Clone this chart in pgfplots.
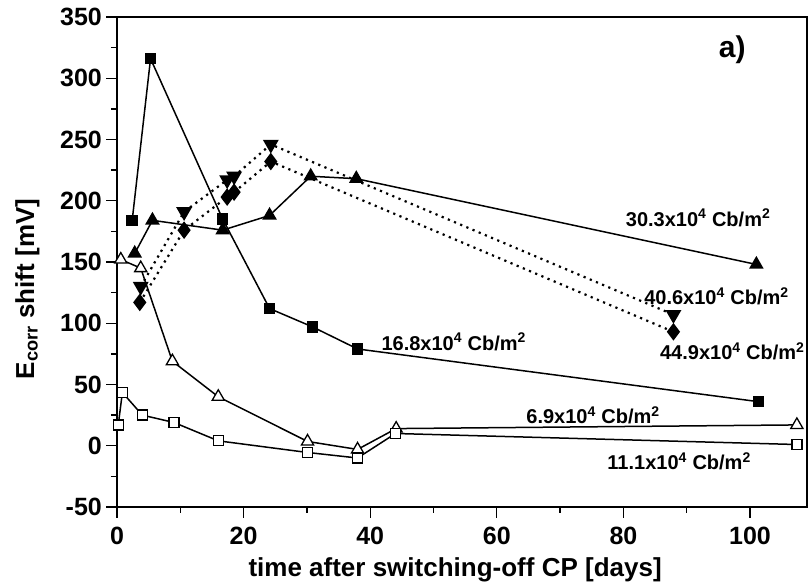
\documentclass[border=0pt]{standalone}
\usepackage{fontspec}
\setmainfont{Liberation Sans}
\usepackage{pgfplots}
\pgfplotsset{compat=1.18}
\begin{document}
\begin{tikzpicture}
\begin{axis}[
 scale only axis, width=690pt, height=490pt,
 xmin=0, xmax=109, ymin=-50, ymax=350,
 xtick={0,20,...,100}, ytick={-50,0,...,350},
 minor x tick num=1, minor y tick num=1,
 xtick pos=bottom, ytick pos=left,
 tick align=outside, major tick length=11pt, minor tick length=6pt,
 every tick/.style={black, line width=1.3pt},
 line width=1.6pt,
 /pgf/number format/assume math mode=true,
 ticklabel style={font=\fontsize{25}{29}\selectfont\bfseries},
 xticklabel style={yshift=-5pt},
 xlabel={time after switching-off CP [days]},
 ylabel={E\textsubscript{corr} shift [mV]},
 label style={font=\fontsize{26}{30}\selectfont\bfseries},
 xlabel style={at={(axis description cs:0.49,-0.128)}, anchor=center},
 ylabel style={at={(axis description cs:-0.13,0.445)}, anchor=center},
 clip=false,
]
% 16.8 filled squares
\addplot[black, line width=1.5pt, mark=square*, mark size=5pt, mark options={fill=black}] coordinates {
 (2.4,184) (5.3,316) (16.7,185) (24.1,112) (30.9,97) (38,79) (101.3,36)};
% 30.3 filled triangles
\addplot[black, line width=1.5pt, mark=triangle*, mark size=7pt, mark options={fill=black}] coordinates {
 (2.8,157) (5.6,184) (16.7,176) (24.1,188) (30.6,220) (37.8,218) (101,148)};
% 40.6 inverted triangles, dotted
\addplot[black, line width=2.2pt, dash pattern=on 2.2pt off 4.5pt, mark=triangle*, mark size=7pt, mark options={fill=black, solid, rotate=180}] coordinates {
 (3.75,130) (10.6,191) (17.4,217) (18.5,220) (24.3,246) (87.9,107)};
% 44.9 diamonds, dotted
\addplot[black, line width=2.2pt, dash pattern=on 2.2pt off 4.5pt, mark=diamond*, mark size=7pt, mark options={fill=black, solid}] coordinates {
 (3.6,117) (10.6,176) (17.4,203) (18.5,207) (24.3,232) (87.9,93)};
% 6.9 open triangles
\addplot[black, line width=1.5pt, mark=triangle*, mark size=7pt, mark options={fill=white, line width=1.3pt}] coordinates {
 (0.6,152) (3.75,145) (8.75,69) (16,40) (30.1,3.5) (38,-3) (44.1,14) (107.4,17)};
% 11.1 open squares
\addplot[black, line width=1.5pt, mark=square*, mark size=5pt, mark options={fill=white, line width=1.3pt}] coordinates {
 (0.2,17) (0.85,43.5) (4,25) (9,19) (16,4) (30.1,-5.5) (38,-10) (44,10) (107.4,1)};

\begin{scope}[every node/.style={font=\fontsize{20}{24}\selectfont\bfseries, inner sep=0pt}]
\node at (axis cs:91.8,186) {30.3x10\textsuperscript{4} Cb/m\textsuperscript{2}};
\node at (axis cs:94.7,122) {40.6x10\textsuperscript{4} Cb/m\textsuperscript{2}};
\node at (axis cs:97.2,77) {44.9x10\textsuperscript{4} Cb/m\textsuperscript{2}};
\node at (axis cs:53.2,85) {16.8x10\textsuperscript{4} Cb/m\textsuperscript{2}};
\node at (axis cs:75.2,25) {6.9x10\textsuperscript{4} Cb/m\textsuperscript{2}};
\node at (axis cs:88.8,-12.8) {11.1x10\textsuperscript{4} Cb/m\textsuperscript{2}};
\end{scope}
\node[font=\fontsize{30}{34}\selectfont\bfseries] at (axis cs:97.2,323) {a)};
\end{axis}
\pgfresetboundingbox
\path[use as bounding box] ([xshift=-117pt,yshift=-78pt]current axis.south west) rectangle ([xshift=1pt,yshift=17pt]current axis.north east);
\end{tikzpicture}
\end{document}
